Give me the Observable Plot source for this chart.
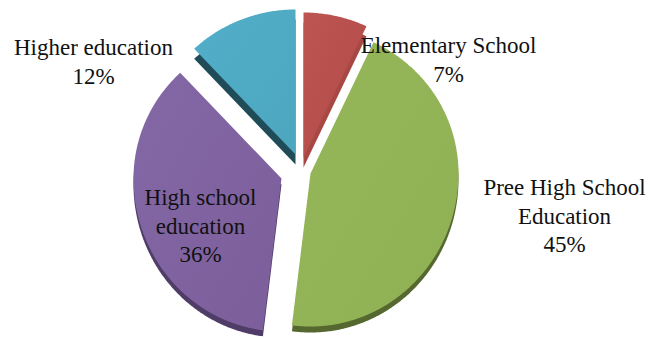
<!DOCTYPE html>
<html>
<head>
<meta charset="utf-8">
<style>
  html, body { margin: 0; padding: 0; background: #fff; }
</style>
<script src="https://cdn.jsdelivr.net/npm/d3@7"></script>
<script src="https://cdn.jsdelivr.net/npm/@observablehq/plot@0.6"></script>
</head>
<body>
<div id="chart"></div>
<script>
// Share of respondents by level of education, in percent.
const categories = ["Elementary School", "Pree High School\nEducation", "High school\neducation", "Higher education"];
const shares = [7, 45, 36, 12];

// Slice colours: top-left tone, bottom-right tone, side of the extruded wedge.
const lightTones = ["#bd5552", "#96b65a", "#8468a6", "#52aec9"];
const darkTones = ["#b24c49", "#90b054", "#7b5e9a", "#4ca6be"];
const sideTones = ["#a84845", "#55682f", "#4f3d68", "#1f4c58"];

// Exploded apex of each wedge and where its label sits.
const apexX = [303, 310, 281, 295];
const apexY = [157, 173, 178, 154];
const labelX = [448, 564, 200, 93];
const labelY = [58, 214, 224, 60];

const radiusX = 148, radiusTop = 145, radiusBottom = 153, depth = [10, 6, 6, 10];

// Turn a share into a closed outline, clockwise from twelve o'clock.
const arcs = d3.pie().sort(null)(shares);
function outline(i) {
  const {startAngle, endAngle} = arcs[i];
  const steps = Math.ceil((endAngle - startAngle) / 0.01);
  const pts = [{x: apexX[i], y: apexY[i]}];
  for (let s = 0; s <= steps; ++s) {
    const a = startAngle + (endAngle - startAngle) * s / steps;
    const c = Math.cos(a);
    pts.push({x: apexX[i] + radiusX * Math.sin(a), y: apexY[i] - (c > 0 ? radiusTop : radiusBottom) * c});
  }
  pts.push(pts[0]);
  return pts;
}

const gradients = () => {
  const defs = d3.create("svg:defs");
  shares.forEach((_, i) => {
    const g = defs.append("linearGradient").attr("id", `tone${i}`)
      .attr("x1", 0).attr("y1", 0).attr("x2", 1).attr("y2", 1);
    g.append("stop").attr("offset", "0%").attr("stop-color", lightTones[i]);
    g.append("stop").attr("offset", "100%").attr("stop-color", darkTones[i]);
  });
  return defs.node();
};

const wedgeMarks = shares.flatMap((_, i) => {
  const pts = outline(i);
  return [
    Plot.line(pts, {x: "x", y: "y", fill: sideTones[i], stroke: "none", dy: depth[i], curve: "linear"}),
    Plot.line(pts, {x: "x", y: "y", fill: `url(#tone${i})`, stroke: "none", curve: "linear"})
  ];
});

const labels = categories.map((name, i) => ({
  text: `${name}\n${shares[i]}%`, x: labelX[i], y: labelY[i]
}));

const chart = Plot.plot({
  width: 650,
  height: 338,
  margin: 0,
  style: {background: "#fff", overflow: "visible"},
  x: {domain: [0, 650], range: [0, 650], axis: null},
  y: {domain: [0, 338], range: [0, 338], axis: null},
  marks: [
    gradients,
    ...wedgeMarks,
    Plot.text(labels, {
      x: "x", y: "y", text: "text",
      fontFamily: "Liberation Serif", fontSize: 23, fill: "#111", lineHeight: 1.23,
      textAnchor: "middle"
    })
  ]
});
document.getElementById("chart").append(chart);
</script>
</body>
</html>
